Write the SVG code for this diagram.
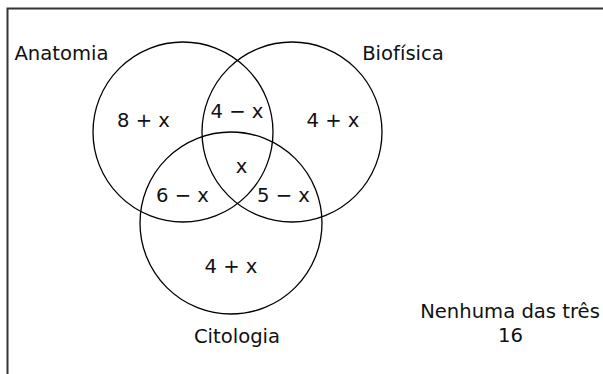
<svg xmlns="http://www.w3.org/2000/svg" width="603" height="374" viewBox="0 0 603 374">
<style>
text{font-family:"DejaVu Sans","Verdana",sans-serif;font-size:19.6px;fill:#111;text-anchor:middle}
.c{fill:none;stroke:#000;stroke-width:1.3}
</style>
<rect width="603" height="374" fill="#fff"/>
<path d="M7.5,374 V8.5 H603" fill="none" stroke="#333" stroke-width="2"/>
<g id="anatomia"><circle class="c" cx="183" cy="132" r="90"/><text x="61.5" y="60">Anatomia</text></g>
<g id="biofisica"><circle class="c" cx="292" cy="132" r="90"/><text x="403" y="60">Biofísica</text></g>
<g id="citologia"><circle class="c" cx="231" cy="223" r="91"/><text x="237" y="343">Citologia</text></g>
<g id="regions">
<text x="143.5" y="127">8 + x</text>
<text x="237" y="118">4 − x</text>
<text x="333" y="127">4 + x</text>
<text x="241.5" y="173">x</text>
<text x="182.5" y="202">6 − x</text>
<text x="283.5" y="202">5 − x</text>
<text x="231" y="273">4 + x</text>
</g>
<g id="nenhuma"><text x="510" y="318">Nenhuma das três</text><text x="510.5" y="342">16</text></g>
</svg>
